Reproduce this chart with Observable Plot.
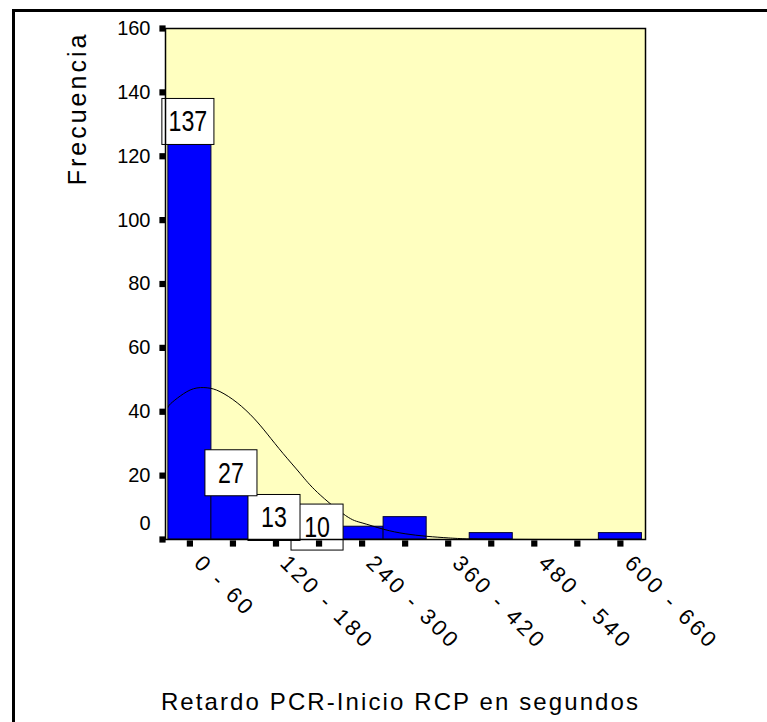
<!DOCTYPE html>
<html><head><meta charset="utf-8">
<script src="https://cdn.jsdelivr.net/npm/d3@7"></script>
<script src="https://cdn.jsdelivr.net/npm/@observablehq/plot@0.6"></script>
<style>
html,body{margin:0;padding:0;background:#fff;}
#wrap{position:relative;width:767px;height:722px;overflow:hidden;}
#border{position:absolute;left:12px;top:9px;width:900px;height:900px;border-left:3px solid #000;border-top:3px solid #000;pointer-events:none;}
svg{display:block;font-family:"Liberation Sans",Arial,sans-serif;}
</style></head><body><div id="wrap"><div id="border"></div></div>
<script>
// ---- data ----
const binStart = [0, 60, 120, 180, 240, 300, 360, 420, 480, 540, 600];
const binEnd   = [60, 120, 180, 240, 300, 360, 420, 480, 540, 600, 660];
const binLabel = ["0 - 60","60 - 120","120 - 180","180 - 240","240 - 300","300 - 360","360 - 420","420 - 480","480 - 540","540 - 600","600 - 660"];
const frequency = [137, 27, 13, 10, 4, 7, 0, 2, 0, 0, 2];
const labeledBins = ["0 - 60","60 - 120","120 - 180","180 - 240"];
const shownTickLabels = ["0 - 60","120 - 180","240 - 300","360 - 420","480 - 540","600 - 660"];
const yTicks = [0, 20, 40, 60, 80, 100, 120, 140, 160];
// normal curve
const curveSeconds   = [0, 3, 17, 35, 54, 72, 96, 119, 138, 160, 184, 208, 247, 270, 300, 330, 360, 390, 420, 480, 560, 660];
const curveFrequency = [41.5, 42.5, 45, 47.2, 47.5, 46.3, 42.8, 38, 33, 26.9, 20.6, 14.7, 7.5, 5.2, 3.2, 1.8, 1.0, 0.5, 0.2, 0.05, 0, 0];
const xTitle = "Retardo PCR-Inicio RCP en segundos";
const yTitle = "Frecuencia";

const bins = binStart.map((s, i) => ({start: s, end: binEnd[i], label: binLabel[i], freq: frequency[i]}));
const curve = curveSeconds.map((s, i) => ({s, f: curveFrequency[i]}));
const mid = d => (d.start + d.end) / 2;
const boxed = bins.filter(d => labeledBins.includes(d.label));

// boxes drawn from last to first so earlier boxes sit on top
const boxMarks = boxed.slice().reverse().flatMap(d => [
  Plot.rect([d], {
    x1: "start", x2: "end", y1: "freq", y2: "freq",
    insetLeft: -6, insetRight: -3, insetTop: -3, insetBottom: -43,
    fill: "#fff", stroke: "#000", strokeWidth: 1
  }),
  Plot.text([d], {
    x: mid, y: "freq", text: d => String(d.freq), dy: 20, dx: -2,
    fontSize: 29, fill: "#000", lineAnchor: "middle", textAnchor: "middle"
  })
]);

const chart = Plot.plot({
  width: 767,
  height: 722,
  marginLeft: 165,
  marginRight: 122,
  marginTop: 28,
  marginBottom: 183,
  x: {domain: [-4, 665], axis: null},
  y: {domain: [0, 160], axis: null},
  marks: [
    Plot.frame({fill: "#ffffc0"}),
    Plot.rectY(bins.filter(d => d.freq > 0), {x1: "start", x2: "end", y: "freq", fill: "#0000ff", stroke: "#000033", strokeWidth: 1}),
    Plot.line(curve, {x: "s", y: "f", stroke: "#000", strokeWidth: 1, curve: "natural"}),
    ...boxMarks,
    Plot.frame({stroke: "#000", strokeWidth: 1.5}),
    // y tick markers and labels
    Plot.dot(yTicks, {y: d => d, frameAnchor: "left", dx: -3, symbol: "square", r: 3.5, fill: "#000"}),
    Plot.text(yTicks.filter(v => v > 0), {y: d => d, text: d => String(d), frameAnchor: "left", dx: -15, textAnchor: "end", fontSize: 20, fill: "#000"}),
    Plot.text(yTicks.filter(v => v === 0), {y: d => d, text: d => String(d), frameAnchor: "left", dx: -15, dy: -16, textAnchor: "end", fontSize: 20, fill: "#000"}),
    // x tick markers and labels
    Plot.dot(bins, {x: mid, frameAnchor: "bottom", dy: 4, symbol: "square", r: 3.5, fill: "#000"}),
    Plot.text(bins.filter(d => shownTickLabels.includes(d.label)), {
      x: mid, text: "label", frameAnchor: "bottom",
      dx: 8, dy: 20, rotate: 45, textAnchor: "start", lineAnchor: "middle", fontSize: 22, fill: "#000"
    }),
    // titles
    Plot.text([xTitle], {text: d => d, frameAnchor: "bottom", dx: -5, dy: 170, lineAnchor: "bottom", textAnchor: "middle", fontSize: 24, fill: "#000"}),
    Plot.text([yTitle], {text: d => d, frameAnchor: "top-left", dx: -88, dy: 80, rotate: -90, lineAnchor: "middle", textAnchor: "middle", fontSize: 25, fill: "#000"})
  ]
});

// text styling that Plot has no option for
const boxStrings = new Set(boxed.map(d => String(d.freq)));
const tickStrings = new Set(shownTickLabels);
d3.select(chart).selectAll("text").each(function() {
  const t = this.textContent;
  const el = d3.select(this);
  if (t === xTitle) el.style("letter-spacing", "2.1px");
  else if (t === yTitle) el.style("letter-spacing", "3px");
  else if (tickStrings.has(t)) el.style("letter-spacing", "3.2px");
  else if (boxStrings.has(t)) {
    const tr = el.attr("transform");
    if (tr) el.attr("transform", tr + " scale(0.8,1)");
    else {
      const x = +el.attr("x") || 0, y = +el.attr("y") || 0;
      el.attr("x", null).attr("y", null).attr("transform", `translate(${x},${y}) scale(0.8,1)`);
    }
  }
});
document.getElementById("wrap").prepend(chart);
</script>
</body></html>
